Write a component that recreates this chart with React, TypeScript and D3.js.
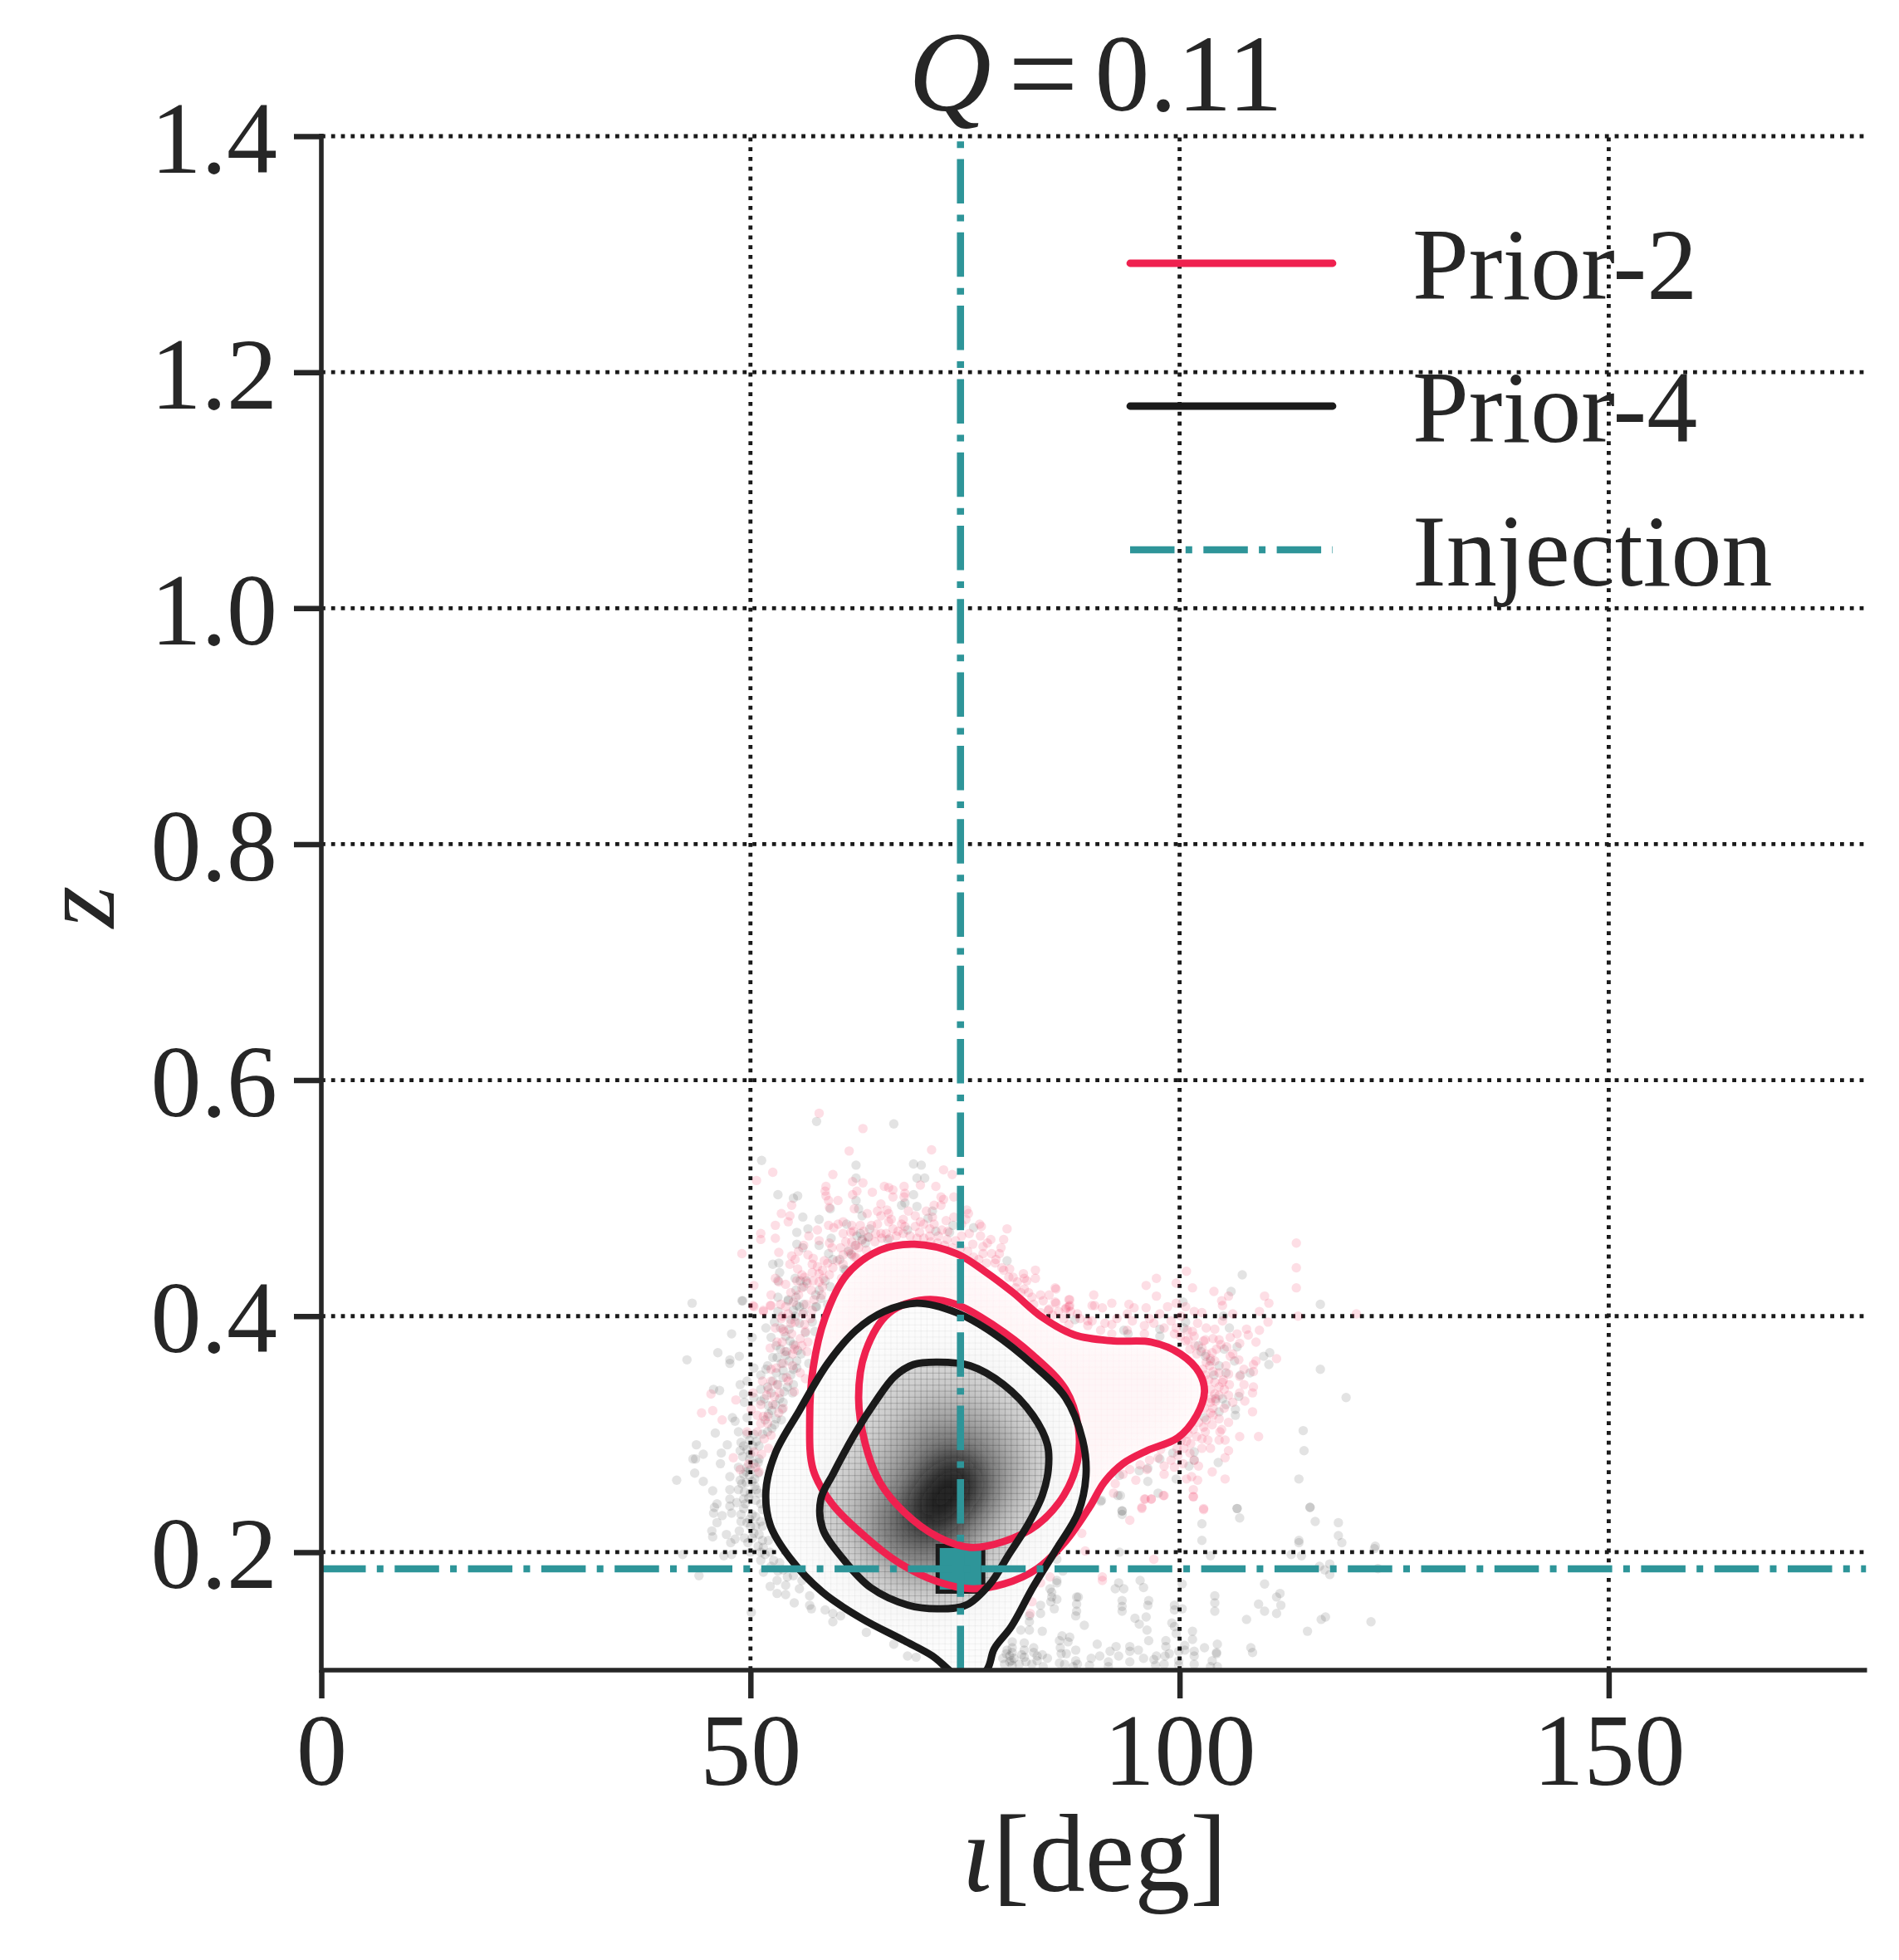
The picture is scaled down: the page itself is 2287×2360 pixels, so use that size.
import React, { useEffect, useRef } from "react";
import * as d3 from "d3";

type Pt = [number, number];

const xTicks = [0, 50, 100, 150];
const yTicks = [0.2, 0.4, 0.6, 0.8, 1.0, 1.2, 1.4];
const injection = { iota: 74.47, z: 0.1859 };
const legendLabels = ["Prior-2", "Prior-4", "Injection"];

// contours, [iota, z]
const redOuter: Pt[] = [[69.1,.461],[74,.453],[77.3,.438],[80.6,.42],[84,.399],[87.8,.384],[92.3,.379],[96.7,.378],[100.1,.368],[102.3,.352],[102.9,.336],[102,.316],[99.8,.297],[96.2,.286],[93.4,.275],[91.2,.259],[89.5,.238],[86.7,.209],[83.4,.186],[79.5,.173],[75.6,.169],[71.8,.175],[67.3,.191],[63.4,.213],[59.5,.241],[57.3,.27],[56.9,.313],[57.3,.356],[58.7,.399],[61.2,.435],[65.1,.456]];
const redInner: Pt[] = [[70.4,.414],[74,.41],[78.4,.392],[82.9,.367],[86.7,.338],[88.2,.306],[88.1,.277],[86.5,.248],[83.4,.223],[79.5,.209],[75.6,.204],[71.8,.213],[67.9,.234],[65.1,.259],[63.4,.291],[62.6,.331],[63.4,.37],[66.2,.403]];
const blackOuter: Pt[] = [[69.4,.411],[74,.403],[78.4,.385],[82.9,.359],[86.7,.331],[88.7,.295],[89.1,.266],[88.2,.234],[85.6,.202],[82.9,.17],[80.4,.137],[78.4,.118],[77.6,.101],[75.4,.087],[73,.101],[71.2,.112],[67.9,.125],[62.9,.144],[58.4,.166],[54.6,.195],[52.3,.223],[51.8,.252],[52.9,.284],[55.7,.32],[59,.36],[62.3,.388],[65.6,.404]];
const blackInner: Pt[] = [[71.8,.361],[75.6,.358],[79.5,.342],[82.9,.316],[84.6,.291],[84.7,.27],[84,.248],[82.3,.223],[80.1,.198],[77.9,.173],[75.1,.155],[71.8,.152],[68.4,.155],[64,.17],[60.7,.195],[58.4,.22],[58.2,.245],[59.6,.266],[62.3,.302],[64.5,.327],[66.8,.349],[69,.359]];

const densityLevel1: Pt[] = [[71.8,.342],[76.2,.338],[80.1,.316],[82.3,.291],[82.9,.266],[81.2,.234],[78.4,.205],[75.6,.18],[72.3,.166],[68.4,.17],[64.5,.184],[61.8,.205],[60.1,.23],[61.2,.256],[64,.288],[66.8,.32],[69,.336]];
const densityLevel2: Pt[] = [[72.3,.32],[76.2,.316],[79.5,.295],[80.9,.266],[79,.238],[75.6,.205],[72.9,.184],[69.5,.18],[65.6,.195],[63.4,.216],[63.4,.241],[65.6,.27],[68.4,.302],[70.1,.316]];
const densityLevel3: Pt[] = [[72.9,.299],[76.2,.291],[78.4,.27],[77.9,.245],[75.1,.216],[71.8,.196],[68.4,.196],[65.6,.213],[65.6,.234],[67.9,.259],[70.1,.288]];
const densityLevel4: Pt[] = [[73.4,.284],[75.9,.273],[76.5,.256],[74.5,.234],[71.8,.216],[69,.213],[67.9,.227],[69,.245],[71.2,.273]];
const densityLevel5: Pt[] = [[74.6,.272],[76,.258],[74.4,.238],[71.6,.222],[69.6,.232],[70.8,.258]];
const densityColors = ["#bdbdbd", "#9a9a9a", "#6e6e6e", "#3c3c3c", "#1a1a1a"];

const redPoints: Pt[] = [
[58,.572],[63.1,.559],[61.5,.54],[71.1,.541],[50.7,.515],[52.6,.522],[59.6,.52],[72.5,.524],[73.5,.52],[61.9,.514],[63.1,.513],[58.8,.51],[58.7,.506],[58.8,.502],[59.1,.498],[60.2,.498],[59.2,.492],[54.8,.494],[53.6,.487],[54.6,.485],[54.4,.48],[52.9,.477],[51.2,.47],[51.2,.465],[52.9,.466],[49,.453],[53.3,.454],[50.4,.426],[52.4,.418],[52.4,.409],[50.4,.408],[51.5,.404],
[61.9,.503],[62.4,.506],[64.2,.505],[65.6,.51],[66.1,.509],[66.6,.507],[67.9,.51],[69.8,.511],[71.6,.51],[66.6,.501],[67.9,.501],[68,.504],[72.2,.501],[72.5,.499],[73.7,.501],[65.2,.495],[62.1,.491],[71.4,.494],[72.2,.494],[63.6,.487],[64.8,.489],[65.9,.49],[66.1,.487],[65.2,.485],[66.4,.482],[66.1,.48],[67.8,.482],[68.4,.489],[69.2,.485],[69.8,.48],[70.5,.489],[71.2,.484],[72.8,.481],[73.7,.484],[75.2,.49],[75.4,.487],[75.1,.482],[76.7,.478],[76.9,.476],[79.9,.474],[79.5,.465],[77.6,.462],[77.1,.459],[78.1,.453],[79.2,.458],[79,.453],[77.1,.453],[75.9,.461],[74.6,.468],
[59.1,.477],[60.8,.48],[59.7,.475],[60.2,.478],[61.8,.477],[62.8,.477],[64.1,.477],[64.8,.478],[61.7,.471],[65.2,.47],[65.8,.47],[67.2,.472],[68,.476],[69.7,.471],[70.9,.474],[70.9,.468],[71.9,.468],[72.9,.465],[73.9,.464],[57.8,.473],[56.8,.468],[58,.464],[59.2,.462],[61.1,.463],[60.5,.458],[61.8,.463],[62.6,.458],[63.5,.456],[62.3,.45],[61.7,.453],[62.1,.45],[56.7,.452],[57.3,.449],[57.2,.444],[58.6,.447],[54.8,.451],[54.6,.444],[55.2,.448],[60.8,.444],[60.6,.432],[58,.436],[58,.429],[58.5,.432],[56.3,.433],[57.3,.43],[57.1,.422],[58.4,.425],[54.1,.427],[53.3,.429],[52.9,.432],
[81.1,.429],[81.8,.436],[81.9,.432],[81.9,.423],[83.2,.439],[83.2,.432],[80.1,.433],[79.5,.439],[82.8,.416],[83.8,.418],[85.6,.423],[85.6,.411],[87.2,.414],[87.2,.409],[86.7,.406],[84.8,.406],[83.8,.403],
[51.5,.405],[52.3,.409],[54.1,.408],[50.3,.409],[52.3,.373],[53.1,.378],[54.7,.394],[53.9,.387],[56.4,.387],[56,.375],[55.1,.372],[53,.356],[56.4,.347],[45.4,.334],[44.3,.318],[45.6,.32],[46.7,.312],[48.3,.329],[50.3,.335],[51.9,.333],[52.8,.332],[55.1,.336],[53.8,.322],[50.1,.321],[51.2,.309],[52,.309],[49.6,.302],[52.1,.288],[48,.28],[48.8,.27],[51,.268],[53.8,.389],[56.7,.378],[54.4,.345],
[113.6,.462],[113.6,.441],[113.6,.424],[100.8,.438],[97.3,.432],[96.1,.426],[99.6,.428],[101.5,.424],[85.5,.424],[85.5,.412],[87.1,.414],[90,.418],[97.3,.417],[104,.421],[105.7,.417],[109.9,.417],[110.4,.411],[92.1,.411],[94.1,.41],[96.1,.407],[98.6,.408],[99.6,.411],[104.9,.413],[105,.409],[87.1,.408],[86.8,.407],[89.8,.409],[90.1,.409],[91,.407],[94.7,.407],[84.7,.405],[88.1,.402],[87.3,.404],[109.3,.404],[106.2,.402],[97.7,.402],[93.9,.402],[100.7,.408],[101.7,.404],[102.6,.403],[113.8,.4],[120.6,.402],[110.3,.395],[92.1,.393],[89.3,.396],[87.1,.393],[89.3,.392],[90.8,.388],[92.1,.385],[93.9,.388],[95.9,.392],[95.9,.385],[97,.394],[99.6,.39],[99.4,.385],[100.7,.379],[100.9,.388],[101.5,.387],[102.1,.394],[103.1,.39],[104.1,.389],[105,.396],[105.9,.382],[107.8,.389],[109.3,.388],[108,.384],[103.9,.381],[101.8,.375],[102.8,.379],[107,.377],[108.9,.378],[105.9,.366],[103.8,.369],[104.1,.362],[106.9,.363],[111.3,.364],[108.9,.362],[108.6,.359],[107.5,.355],[103.1,.361],[103.9,.353],[105.7,.351],[108.6,.353],[105,.344],[107.5,.342],[104.1,.344],[108.6,.34],[108.5,.335],[104.1,.334],[104.6,.333],[105.7,.333],[107,.335],[107.6,.328],[103.6,.327],[108.5,.319],[104.6,.313],[105.7,.31],[103.6,.318],[102.8,.306],[104.7,.302],[107,.298],[109.2,.298],[105.3,.295],[104.6,.295],[102,.298],[103.3,.295],[103.6,.288],[105.7,.286],[105.3,.28],[102.6,.288],[100.5,.288],[101.2,.284],[101.7,.278],[99.4,.272],[102.2,.273],[103.8,.268],[105.3,.262],[102.1,.261],[101.4,.264],[100.8,.262],[98.2,.266],[98.2,.273],[94.9,.261],[96.5,.278],[95.4,.274],[93.4,.266],[101.6,.253],[101.6,.247],[92.3,.25],[95.9,.245],[96.7,.245],[98.2,.248],[95.6,.238],[102.8,.237],
[96,.245],[96.7,.245],[98.1,.248],[101.6,.247],[102.8,.236],[95.6,.237],[94.2,.227],[88.6,.216],[89,.201],[97,.194],[91,.179],[91,.176],[84.9,.179],[83.8,.174],[82.8,.158],[82.6,.148],
// the thick band hugging the contour
[55.5,.44],[56,.435],[56.6,.428],[57.2,.437],[57.8,.442],[58.4,.439],[59,.445],[59.6,.441],[60.1,.447],[59.2,.435],[58.3,.418],[57.4,.414],[56.5,.41],[55.6,.418],[55,.412],[56.1,.402],[57.2,.405],[54.4,.402],[53.6,.398],[55.2,.395],[56.3,.393],[57,.398],[54.8,.385],[55.8,.381],[56.6,.37],[55.2,.375],[54,.37],[54.9,.358],[55.8,.352],[54.2,.348],[53.1,.342],[52.4,.345],[52.1,.338],[53.4,.335],[52.6,.325],[53.3,.318],[51.5,.315],[50.8,.302],[51.6,.296],[52.4,.299],[50.4,.285],[51.3,.283],[50.6,.272],[49.8,.275],
[60.8,.452],[61.5,.456],[62.3,.46],[63,.464],[63.8,.467],[64.5,.463],[65.3,.466],[66.2,.466],[67,.468],[67.8,.47],[68.6,.468],[69.4,.466],[70.2,.466],[71,.463],[71.8,.462],[72.6,.46],[73.5,.458],[74.5,.458],[75.3,.455],[76,.45],[76.6,.448],[77.5,.445],[78.5,.445],[79.3,.441],[80.2,.44],[80.9,.424],[81.5,.42],[82.4,.42],[83,.41],[84.1,.413],[85.2,.401],[86.5,.398],[88.4,.398],[89.8,.396],[91.3,.394],[92.7,.398],[94.5,.396],[96.5,.398],[98.2,.39],[99,.396],[100.2,.4],
[101.2,.372],[102,.368],[102.6,.373],[103.1,.368],[103.6,.364],[104.3,.372],[104.8,.376],[103.5,.358],[104.6,.352],[105.4,.358],[106.2,.368],[103.4,.346],[104.6,.34],[105.2,.338],[105.8,.342],[103.6,.338],[104.2,.328],[105.2,.322],[106.2,.327],[103.9,.322],[103.1,.312],[103.8,.308],[102.2,.31],[101.6,.304],[103,.302],[101,.3],[100.2,.295],[101.3,.292],[99.8,.282],[99,.278],[100.4,.275],[97.5,.28],[96.2,.27],[94.2,.27],[92.5,.258],
[56.2,.46],[55.6,.455],[59.5,.458],[60.8,.47],[62,.472],[63.2,.472],[64.6,.47],[66.6,.474],[67.6,.478],[69.2,.476],[70.2,.478],[71.4,.478],[72.3,.473],[73,.472],[74.6,.478],[75.5,.47],[78,.465],[76.8,.468],[78.6,.448],[80.6,.433],[82.2,.43],[84.8,.418],[85.9,.404],[53.5,.41],[54.7,.42],[55.4,.43],[56,.424],[53.7,.4],[52.9,.39],[53.7,.378],[54.9,.368],[53.8,.36],[52.4,.355],[51.4,.345],[51.2,.325],[52,.315],[50.8,.316],[101,.38],[100.1,.383],[101.7,.383],[103,.38],[104.6,.38],[105.5,.374],[106.7,.385],[102.7,.355],[103,.35],[103.7,.33],[102.9,.322],[104.9,.304],[102.6,.296],[100.8,.294],[99.7,.288],[97.8,.287],[103.9,.316],[105.1,.346],[107,.349],
];

const greyPoints: Pt[] = [
[57.7,.565],[66.7,.563],[51.3,.532],[62.3,.528],[69,.529],[69.9,.528],[62.3,.517],[69.4,.517],[70.3,.517],[53.2,.503],[55,.5],[55.5,.502],[69,.503],[62.3,.498],[67.6,.494],[68,.496],[69.4,.493],[62.6,.491],[59.3,.491],[63,.485],[71.2,.489],[70.7,.483],[56.1,.484],[58,.482],[56.7,.474],[55.4,.471],[61.2,.478],[68.3,.473],[71.6,.472],[73.2,.471],[73.6,.477],[76,.475],[62.4,.468],[63,.465],[63.7,.467],[63.9,.474],[59.4,.466],[55.4,.461],[56.1,.458],[58,.46],[59.1,.453],[59.6,.448],[61.4,.455],[66,.465],[79.9,.447],[52.6,.444],[53.3,.445],[53.4,.437],[53.2,.43],[55.2,.432],[56.2,.425],[55.3,.422],[53.2,.416],[55.3,.416],[54.4,.413],[49.1,.413],[58,.422],[59.3,.425],[56.2,.41],[55.4,.409],[57.7,.408],[53.2,.404],[61.1,.439],
[43.2,.411],[49,.413],[47.8,.385],[42.6,.363],[46.2,.369],[47.6,.363],[47.6,.36],[48.7,.366],[50.4,.356],[51.2,.35],[51.8,.355],[50.2,.382],[48.8,.342],[49.6,.345],[51.2,.338],[49.2,.334],[46.4,.337],[45.7,.338],[49.3,.327],[50.4,.331],[51.2,.328],[52.1,.324],[52.1,.317],[47.9,.314],[48.2,.311],[49.6,.314],[45.9,.301],[48.6,.302],[52.8,.308],[43.7,.291],[47.3,.291],[44.5,.283],[46.6,.284],[43.6,.279],[43.3,.279],[46.5,.275],[43.5,.267],[41.4,.261],[44.5,.26],[45.6,.252],[47.6,.264],[47.6,.253],[47.6,.245],[46.1,.241],[45.8,.238],[45.7,.233],[46.7,.231],[47.6,.239],[47.8,.233],[46.1,.225],
[48.9,.293],[49.9,.295],[50.7,.294],[51,.29],[48.8,.286],[49.6,.287],[49.1,.281],[49.9,.279],[51,.279],[48.6,.272],[49.6,.272],[48.8,.261],[49.9,.265],[50.9,.267],[50.5,.256],[48.6,.253],[49.3,.251],[50.7,.253],[49.4,.241],[51.2,.241],[48.9,.232],[50.2,.232],[49.6,.225],[51.2,.226],[48.7,.218],[50.4,.216],[45.5,.218],[45.6,.213],[47.2,.215],[48.2,.211],[47.7,.208],[49.3,.212],[51.4,.21],[52.1,.21],[51.5,.204],[42.1,.198],[46.9,.197],[47.8,.198],[50,.2],[51.2,.193],[53.4,.191],[44,.18],[51.5,.183],[52.3,.171],[53.1,.176],[54.1,.172],[53.1,.165],[54.1,.164],[55.7,.169],[55.1,.157],[56.9,.163],[56.9,.155],[57.1,.152],[58.7,.151],[59.6,.148],[60.5,.146],[59.6,.141],[50.1,.149],[63.5,.132],[66.7,.122],[68.3,.112],[69.3,.111],
[52.8,.395],[54.7,.397],[55.7,.394],[54.1,.383],[54.6,.379],[56.4,.386],[57.5,.387],[53.1,.365],[54.1,.367],[55.4,.362],[55.4,.356],[53.8,.354],[53.8,.348],[56.8,.36],[53.9,.336],[54.9,.335],[53.8,.327],[53.7,.321],[52,.302],[55.7,.408],[57.6,.408],[54.4,.414],
[107.3,.435],[106,.421],[116.4,.41],[100.4,.412],[105.1,.4],[100.7,.395],[105.8,.39],[97.7,.389],[97.7,.383],[93.5,.388],[94,.385],[87.8,.397],[105.2,.372],[106.7,.374],[109.8,.366],[110.5,.369],[110.4,.359],[103.6,.362],[104.6,.358],[106.4,.362],[105.4,.352],[107.1,.35],[108.2,.352],[116.4,.355],[119.4,.331],[105.4,.325],[106.5,.321],[106.5,.316],[104.6,.319],[102.9,.314],[106.9,.332],[114.4,.303],[114.5,.286],[101.7,.285],[99.2,.284],[97.7,.279],[101.7,.278],[101.1,.273],[104.5,.276],[96.3,.271],[95.3,.269],[99.6,.262],[96.3,.26],[93,.265],[113.9,.262],[97.5,.25],[93.1,.248],[90.8,.243],[93.3,.235],[106.7,.237],[115.2,.238],[102.5,.37],
[92.8,.248],[93.3,.235],[93.3,.232],[90.9,.244],[106.7,.237],[107,.229],[102.6,.224],[102.6,.21],[115.2,.238],[115.8,.226],[118.5,.225],[118.5,.214],[118.9,.208],[113.9,.21],[113.9,.208],[122.8,.205],[122.7,.203],[93,.2],[103.6,.197],[113,.198],[114.2,.197],[116.3,.188],[116.9,.185],[117.5,.19],[117.5,.181],[123.1,.186],[85.7,.194],[85.7,.176],[85.7,.174],[84.9,.169],[85.1,.166],[85.1,.162],[85,.158],[85.7,.16],[85.4,.152],[86.4,.184],[92.9,.174],[92.5,.169],[93.5,.169],[95.4,.176],[95.8,.17],[100.3,.173],[109.9,.173],[88,.162],[88.2,.162],[88,.156],[88,.15],[87.9,.146],[93.3,.159],[93.3,.154],[93.3,.15],[96.4,.159],[96.3,.155],[99.4,.155],[99.4,.151],[100.3,.152],[104.1,.163],[104.1,.157],[104.1,.15],[111.7,.165],[111.3,.162],[111.8,.155],[111.3,.148],[109.2,.156],[109.9,.15],[107.8,.143],[116.5,.143],[117,.145],[122.3,.141],[114.9,.133],
[83.8,.155],[83.8,.148],[82.5,.146],[82.5,.141],[82.5,.134],[81.5,.134],[84,.133],[88.9,.138],[94.8,.144],[95.3,.139],[96.1,.145],[96.2,.134],[99.1,.14],[99.4,.137],[99.6,.131],[96.4,.125],[101.5,.133],[101.5,.126],[98.4,.125],[98.4,.12],[98.3,.112],[98.8,.114],[86.3,.129],[87.2,.128],[86,.125],[87,.124],[86.1,.119],[86.2,.114],[86.8,.114],[87.9,.117],[90.4,.122],[91.9,.116],[92.6,.12],[92.9,.112],[90.7,.112],[94.2,.12],[94.2,.116],[95.2,.117],[95.8,.11],[94.2,.107],[89.7,.11],[91.7,.107],[89.5,.104],[91.7,.103],[97.3,.112],[97,.109],[97.2,.104],[98.2,.105],[100.6,.121],[100.6,.117],[99.9,.116],[99.9,.108],[99.9,.104],[101.7,.116],[101.7,.112],[101.7,.105],[102.9,.119],[104.4,.122],[104.3,.115],[104.3,.114],[103.8,.108],[104.4,.103],[103.6,.103],[108.3,.119],[108.5,.115],
[80.5,.124],[80.5,.119],[80.5,.115],[79.9,.117],[79.4,.11],[80.4,.108],[79.6,.105],[80.5,.104],[81.9,.123],[81.9,.117],[81.9,.111],[82.1,.107],[81.3,.105],[83,.119],[83,.115],[84,.113],[83.4,.108],[84.6,.11],[84.1,.103],[86,.106],[86.6,.105],[87.9,.108],[88.1,.105],[87.6,.103],
// the dense left edge and the bottom clump
[50.3,.29],[50,.283],[50.9,.276],[49.5,.268],[50.2,.26],[49,.258],[49.8,.246],[50.6,.244],[49.2,.237],[50.6,.23],[51.4,.236],[50,.222],[51,.215],[49.7,.208],[50.9,.205],[52.3,.2],[51.7,.198],[52.7,.193],[53.2,.184],[54.3,.179],
[52,.34],[52.6,.345],[53,.352],[53.6,.36],[54.7,.35],[55,.342],[53.4,.33],[52.5,.32],[53,.313],[51.7,.312],[54.2,.37],[55,.376],[55.5,.371],[55.9,.368],[54.5,.389],[55.2,.4],[56.2,.403],[57.2,.395],[53.5,.39],
[80.2,.112],[80.7,.11],[80.2,.107],[79.8,.114],[81.6,.113],[83.4,.112],[82.8,.105],
[51.8,.39],[52.4,.382],[53,.375],[52.6,.365],[52,.358],[53.5,.372],[54.5,.362],[55,.355],[54.3,.34],[53.2,.342],[52.4,.335],[51.6,.33],[52.9,.325],[53.6,.312],[52.5,.305],[51.4,.3],[50.4,.3],[49.6,.3],[49.2,.29],[50.4,.275],[50,.27],[49.2,.266],[49.5,.259],[50.5,.262],[51,.25],[50,.25],[49.2,.245],[48.4,.242],[48.9,.226],[49.9,.228],[50.6,.222],[51.4,.222],[50.2,.212],[51.2,.2],[52.4,.188],[53.8,.185],[55,.18],[56,.176],
[62.8,.47],[63.4,.462],[62.2,.46],[61.8,.452],[60.4,.448],[60.9,.44],[58.7,.43],[58.2,.415],[57.6,.418],[58.8,.4],[59,.41],[56.5,.43],[55.8,.43],[55,.405],[100.5,.39],[102.2,.375],[103,.366],[104,.35],[104.2,.33],[105,.33],
];

const RED = "#ef214f";
const BLACK = "#1a1a1a";
const TEAL = "#2e9599";
const INK = "#262626";
const FONT = "'Liberation Serif', serif";

const App: React.FC = () => {
    const svgRef = useRef<SVGSVGElement | null>(null);

    useEffect(() => {
        const width = 2287;
        const height = 2360;
        const margin = { top: 164, right: 39.5, bottom: 349, left: 387 };

        const svg = d3.select(svgRef.current).attr("width", width).attr("height", height);
        svg.selectAll("*").remove();

        const x = d3.scaleLinear().domain([0, 180]).range([margin.left, width - margin.right]);
        const y = d3.scaleLinear().domain([0.1, 1.4]).range([height - margin.bottom, margin.top]);

        const closed = d3
            .line<Pt>()
            .x((d) => x(d[0]))
            .y((d) => y(d[1]))
            .curve(d3.curveCatmullRomClosed.alpha(0.5));

        const defs = svg.append("defs");
        const addClip = (id: string, path: string) =>
            defs.append("clipPath").attr("id", id).append("path").attr("d", path);
        defs.append("clipPath")
            .attr("id", "plot")
            .append("rect")
            .attr("x", x(0))
            .attr("y", y(1.4))
            .attr("width", x(180) - x(0))
            .attr("height", y(0.1) - y(1.4));
        addClip("clipRed", closed(redOuter)!);
        addClip("clipBlack", closed(blackOuter)!);
        addClip("clipInner", closed(blackInner)!);
        const addBlur = (id: string, sd: number) =>
            defs.append("filter")
                .attr("id", id)
                .attr("filterUnits", "userSpaceOnUse")
                .attr("x", 0)
                .attr("y", 0)
                .attr("width", width)
                .attr("height", height)
                .append("feGaussianBlur")
                .attr("stdDeviation", sd);
        addBlur("blurWide", 26);
        addBlur("blurCore", 16);

        const plot = svg.append("g").attr("clip-path", "url(#plot)");

        // dotted grid
        const dots = "4.8 7";
        svg.insert("g", ":first-child")
            .selectAll("line")
            .data(yTicks)
            .join("line")
            .attr("x1", x(0))
            .attr("x2", x(180))
            .attr("y1", (d) => y(d))
            .attr("y2", (d) => y(d))
            .attr("stroke", BLACK)
            .attr("stroke-width", 4.8)
            .attr("stroke-dasharray", dots);
        svg.insert("g", ":first-child")
            .selectAll("line")
            .data(xTicks.slice(1))
            .join("line")
            .attr("x1", (d) => x(d))
            .attr("x2", (d) => x(d))
            .attr("y1", y(0.1))
            .attr("y2", y(1.4))
            .attr("stroke", BLACK)
            .attr("stroke-width", 4.8)
            .attr("stroke-dasharray", dots);

        // samples
        plot.append("g")
            .selectAll("circle")
            .data(greyPoints)
            .join("circle")
            .attr("cx", (d) => x(d[0]))
            .attr("cy", (d) => y(d[1]))
            .attr("r", 5.7)
            .attr("fill", "#000")
            .attr("fill-opacity", 0.11);
        plot.append("g")
            .selectAll("circle")
            .data(redPoints)
            .join("circle")
            .attr("cx", (d) => x(d[0]))
            .attr("cy", (d) => y(d[1]))
            .attr("r", 5.7)
            .attr("fill", RED)
            .attr("fill-opacity", 0.15);

        // the pcolor mesh of the density
        const meshIota = d3.range(40.47, 130, 0.7);
        const meshZ = d3.range(0.0967, 0.6, 0.0051);
        const drawMesh = (g: any, color: string, opacity: number) => {
            g.append("g")
                .selectAll("line")
                .data(meshIota)
                .join("line")
                .attr("x1", (d: number) => x(d))
                .attr("x2", (d: number) => x(d))
                .attr("y1", y(0.05))
                .attr("y2", y(0.6))
                .attr("stroke", color)
                .attr("stroke-opacity", opacity)
                .attr("stroke-width", 1.2);
            g.append("g")
                .selectAll("line")
                .data(meshZ)
                .join("line")
                .attr("x1", x(40))
                .attr("x2", x(130))
                .attr("y1", (d: number) => y(d))
                .attr("y2", (d: number) => y(d))
                .attr("stroke", color)
                .attr("stroke-opacity", opacity)
                .attr("stroke-width", 1.2);
        };

        // Prior-2 fill
        const redFill = plot.append("g").attr("clip-path", "url(#clipRed)");
        redFill.append("path").attr("d", closed(redOuter)).attr("fill", "#fff");
        redFill
            .append("path")
            .attr("d", closed(redOuter))
            .attr("fill", "#fef6f7")
            .attr("filter", "url(#blurWide)");
        drawMesh(redFill, RED, 0.02);

        // Prior-4 fill
        const blackFill = plot.append("g").attr("clip-path", "url(#clipBlack)");
        blackFill.append("path").attr("d", closed(blackOuter)).attr("fill", "#fcfcfc");
        blackFill
            .append("path")
            .attr("d", closed(blackInner))
            .attr("fill", "#ededed")
            .attr("filter", "url(#blurWide)");
        drawMesh(blackFill, "#000", 0.035);

        // Prior-4 density inside the inner contour
        const core = plot.append("g").attr("clip-path", "url(#clipInner)");
        core.append("path").attr("d", closed(blackInner)).attr("fill", "#d6d6d6");
        [densityLevel1, densityLevel2, densityLevel3, densityLevel4, densityLevel5].forEach((level, i) => {
            core.append("path")
                .attr("d", closed(level))
                .attr("fill", densityColors[i])
                .attr("filter", "url(#blurCore)");
        });
        drawMesh(core, "#000", 0.15);

        // injection marker
        const side = 55;
        plot.append("rect")
            .attr("x", x(injection.iota) - side / 2)
            .attr("y", y(injection.z) - side / 2)
            .attr("width", side)
            .attr("height", side)
            .attr("fill", TEAL)
            .attr("stroke", BLACK)
            .attr("stroke-width", 5);

        // contours
        [redOuter, redInner, blackOuter, blackInner].forEach((c, i) => {
            plot.append("path")
                .attr("d", closed(c))
                .attr("fill", "none")
                .attr("stroke", i < 2 ? RED : BLACK)
                .attr("stroke-width", 8.8);
        });

        // injection lines
        const dashDot = "53.5 13.3 8 13.5";
        plot.append("line")
            .attr("x1", x(injection.iota))
            .attr("x2", x(injection.iota))
            .attr("y1", y(0.1))
            .attr("y2", y(1.4))
            .attr("stroke", TEAL)
            .attr("stroke-width", 8.6)
            .attr("stroke-dasharray", dashDot);
        plot.append("line")
            .attr("x1", x(0))
            .attr("x2", x(180))
            .attr("y1", y(injection.z))
            .attr("y2", y(injection.z))
            .attr("stroke", TEAL)
            .attr("stroke-width", 8.6)
            .attr("stroke-dasharray", dashDot);

        // axes
        const xAxis = svg
            .append("g")
            .attr("transform", `translate(0,${y(0.1)})`)
            .call(d3.axisBottom(x).tickValues(xTicks).tickFormat(d3.format("d")).tickSize(34));
        const yAxis = svg
            .append("g")
            .attr("transform", `translate(${x(0)},0)`)
            .call(d3.axisLeft(y).tickValues(yTicks).tickFormat(d3.format(".1f")).tickSize(33));
        [xAxis, yAxis].forEach((a) => {
            a.select(".domain").remove();
            a.selectAll("line").attr("stroke", INK).attr("stroke-width", 6.5);
            a.selectAll("text")
                .attr("fill", INK)
                .attr("font-family", FONT)
                .attr("font-size", 122)
                .attr("dy", 0);
        });
        xAxis.selectAll("text").attr("y", 138);
        yAxis.selectAll("text").attr("x", -53).attr("y", 43);

        svg.append("line")
            .attr("x1", x(0))
            .attr("x2", x(0))
            .attr("y1", y(1.4) - 3)
            .attr("y2", y(0.1) + 3)
            .attr("stroke", INK)
            .attr("stroke-width", 5.6);
        svg.append("line")
            .attr("x1", x(0))
            .attr("x2", x(180) + 1)
            .attr("y1", y(0.1))
            .attr("y2", y(0.1))
            .attr("stroke", INK)
            .attr("stroke-width", 5.6);

        // title and axis labels
        const text = (px: number, py: number, anchor: string, size = 122) =>
            svg
                .append("text")
                .attr("x", px)
                .attr("y", py)
                .attr("text-anchor", anchor)
                .attr("fill", INK)
                .attr("font-family", FONT)
                .attr("font-size", size);

        const title = text(1319.5, 133, "middle", 138);
        title.append("tspan").attr("font-style", "italic").text("Q");
        title.append("tspan").attr("dx", 20).attr("dy", 6).attr("font-size", 150).text("=");
        title.append("tspan").attr("dx", 20).attr("dy", -6).attr("font-size", 132).text("0.11");

        const xLabel = text(1318, 2277, "middle", 134);
        xLabel.append("tspan").attr("font-style", "italic").text("ι");
        xLabel.append("tspan").text("[deg]");

        text(0, 0, "middle", 130)
            .attr("x", null)
            .attr("y", null)
            .attr("transform", `translate(137,1092) rotate(-90)`)
            .attr("font-style", "italic")
            .text("z");

        // legend
        const legendY = [317, 489, 662];
        const legendBase = [360, 532, 705];
        [RED, BLACK].forEach((c, i) => {
            svg.append("line")
                .attr("x1", 1361)
                .attr("x2", 1605)
                .attr("y1", legendY[i])
                .attr("y2", legendY[i])
                .attr("stroke", c)
                .attr("stroke-width", 8.8)
                .attr("stroke-linecap", "round");
        });
        svg.append("line")
            .attr("x1", 1361)
            .attr("x2", 1605)
            .attr("y1", legendY[2])
            .attr("y2", legendY[2])
            .attr("stroke", TEAL)
            .attr("stroke-width", 8.6)
            .attr("stroke-dasharray", dashDot);
        legendLabels.forEach((label, i) => {
            text(1701, legendBase[i], "start").text(label);
        });
    }, []);

    return <svg ref={svgRef} style={{ position: "absolute", left: 0, top: 0, background: "#fff" }} />;
};

export default App;
